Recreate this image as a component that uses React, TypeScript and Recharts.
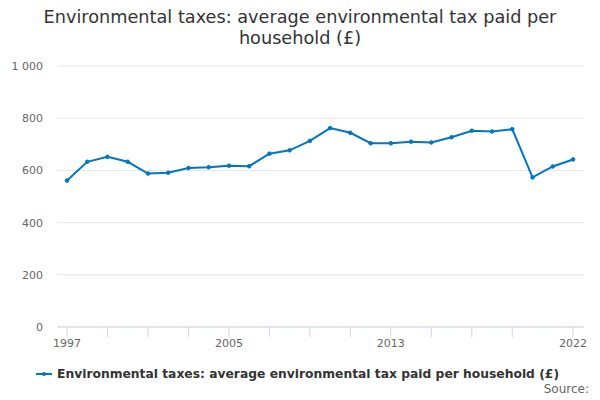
import React from "react";
import { LineChart, Line, XAxis, YAxis, CartesianGrid } from "recharts";

const years = [1997, 1998, 1999, 2000, 2001, 2002, 2003, 2004, 2005, 2006, 2007, 2008, 2009, 2010, 2011, 2012, 2013, 2014, 2015, 2016, 2017, 2018, 2019, 2020, 2021, 2022];
const taxPaid = [561, 633, 652, 633, 588, 591, 609, 612, 618, 616, 664, 677, 713, 762, 744, 704, 704, 710, 707, 727, 752, 749, 758, 573, 615, 642];
const xTicks = [1997, 1999, 2001, 2003, 2005, 2007, 2009, 2011, 2013, 2015, 2017, 2019, 2022];
const xLabels = [1997, 2005, 2013, 2022];
const yTicks = [0, 200, 400, 600, 800, 1000];

const data = years.map((y, i) => ({ year: y, value: taxPaid[i] }));

const FONT = "'DejaVu Sans', sans-serif";
const COLOR = "#0077c0";

const fmtY = (v: number) => (v >= 1000 ? `${Math.floor(v / 1000)} ${String(v % 1000).padStart(3, "0")}` : String(v));
const fmtX = (v: number) => (xLabels.includes(v) ? String(v) : "");

export default function App() {
  return (
    <div style={{ position: "absolute", left: 0, top: 0, width: 600, height: 400, fontFamily: FONT, background: "#fff" }}>
      <div style={{ position: "absolute", left: 0, top: 7, width: 600, textAlign: "center", fontSize: 17.7, lineHeight: "21px", color: "#333" }}>
        Environmental taxes: average environmental tax paid per
        <br />
        household (£)
      </div>
      <LineChart width={600} height={400} data={data} margin={{ top: 66, right: 16, bottom: 0, left: 0 }}>
        <CartesianGrid vertical={false} stroke="#e6e6e6" />
        <XAxis
          dataKey="year"
          type="number"
          domain={[1997, 2022]}
          ticks={xTicks}
          tickFormatter={fmtX}
          interval={0}
          padding={{ left: 10, right: 11 }}
          stroke="#ccd6eb"
          tickSize={10}
          tick={{ fill: "#666", fontSize: 11, fontFamily: FONT }}
          height={73}
        />
        <YAxis
          domain={[0, 1000]}
          ticks={yTicks}
          tickFormatter={fmtY}
          axisLine={false}
          tickLine={false}
          width={57}
          tickMargin={8}
          tick={{ fill: "#666", fontSize: 11, fontFamily: FONT }}
        />
        <Line
          type="linear"
          dataKey="value"
          stroke={COLOR}
          strokeWidth={2}
          dot={{ r: 1.8, fill: COLOR, stroke: COLOR, strokeWidth: 1 }}
          isAnimationActive={false}
        />
      </LineChart>
      <div style={{ position: "absolute", left: 36, top: 365, height: 18, display: "flex", alignItems: "center" }}>
        <svg width={16} height={18} style={{ marginRight: 5 }}>
          <line x1={0} y1={9} x2={16} y2={9} stroke={COLOR} strokeWidth={2} />
          <circle cx={8} cy={9} r={2} fill={COLOR} />
        </svg>
        <span style={{ fontSize: 12.3, fontWeight: "bold", color: "#333", whiteSpace: "nowrap" }}>
          Environmental taxes: average environmental tax paid per household (£)
        </span>
      </div>
      <div style={{ position: "absolute", right: 11, top: 382, fontSize: 12, color: "#666", lineHeight: "14px" }}>Source:</div>
    </div>
  );
}
